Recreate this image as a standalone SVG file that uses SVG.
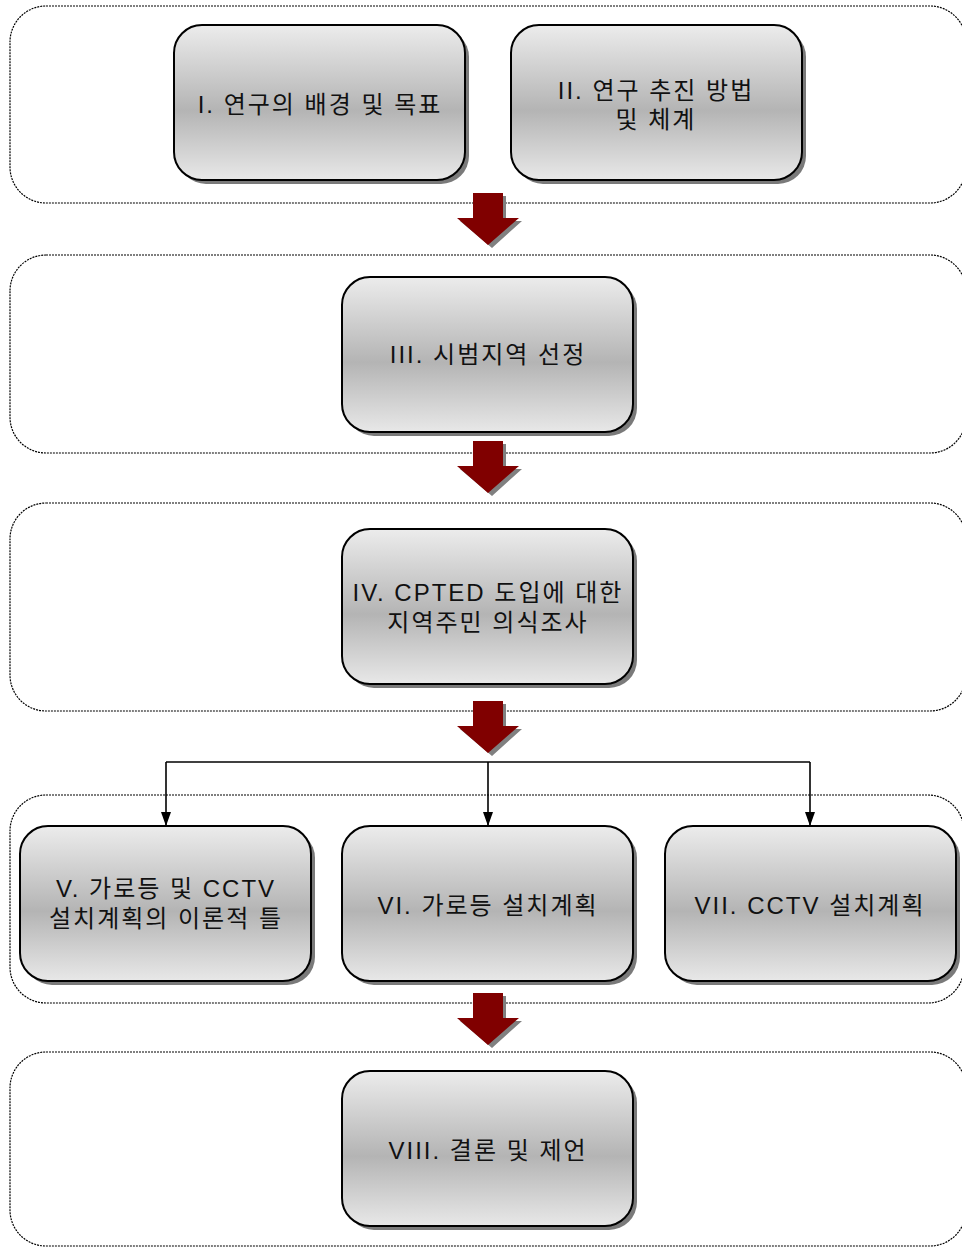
<svg xmlns="http://www.w3.org/2000/svg" width="962" height="1248" viewBox="0 0 962 1248">
  <defs>
    <linearGradient id="boxFill" x1="0" y1="0" x2="0" y2="1">
      <stop offset="0" stop-color="#ececec"/>
      <stop offset="0.55" stop-color="#b4b4b4"/>
      <stop offset="1" stop-color="#e8e8e8"/>
    </linearGradient>
    <marker id="tip" markerWidth="14" markerHeight="10" refX="14" refY="5" orient="auto" markerUnits="userSpaceOnUse" viewBox="0 0 14 10">
      <path d="M0,0 L14,5 L0,10 Z" fill="#000"/>
    </marker>
    <!-- big block arrow, origin at top-left of the shaft -->
    <g id="bigArrow">
      <path d="M19,3 L49,3 L49,28 L65,28 L35,55 L3,28 L19,28 Z" fill="#808080"/>
      <path d="M16,0 L46,0 L46,25 L62,25 L31,52 L0,25 L16,25 Z" fill="#800000"/>
    </g>
  </defs>
  <style>
    .group { fill: none; stroke: #000; stroke-width: 1.2; stroke-dasharray: 2 1; }
    .shadow { fill: #7a7a7a; }
    .box { fill: url(#boxFill); stroke: #000; stroke-width: 2; }
    .label { font-family: "Liberation Sans", "Noto Sans CJK KR", sans-serif; font-size: 24px; fill: #111; text-anchor: middle; letter-spacing: 2px; }
    .link { fill: none; stroke: #000; stroke-width: 1.6; }
  </style>

  <rect width="962" height="1248" fill="#fff"/>

  <!-- stage containers -->
  <g id="stages">
    <rect class="group" x="10" y="6" width="956" height="197" rx="36"/>
    <rect class="group" x="10" y="255" width="956" height="198" rx="36"/>
    <rect class="group" x="10" y="503" width="956" height="208" rx="36"/>
    <rect class="group" x="10" y="795" width="954" height="208" rx="36"/>
    <rect class="group" x="10" y="1052" width="956" height="194" rx="36"/>
  </g>

  <!-- flow arrows between stages -->
  <g id="flow">
    <use href="#bigArrow" x="457" y="193"/>
    <use href="#bigArrow" x="457" y="441"/>
    <use href="#bigArrow" x="457" y="701"/>
    <use href="#bigArrow" x="457" y="993"/>
  </g>

  <!-- branch connectors -->
  <g id="connectors">
    <path class="link" d="M166,762 L810,762"/>
    <path class="link" d="M166,762 L166,826" marker-end="url(#tip)"/>
    <path class="link" d="M488,762 L488,826" marker-end="url(#tip)"/>
    <path class="link" d="M810,762 L810,826" marker-end="url(#tip)"/>
  </g>

  <g id="node1">
    <rect class="shadow" x="178" y="29" width="291" height="155" rx="28"/>
    <rect class="box" x="174" y="25" width="291" height="155" rx="28"/>
    <text class="label" x="320" y="113">I. 연구의 배경 및 목표</text>
  </g>
  <g id="node2">
    <rect class="shadow" x="515" y="29" width="291" height="155" rx="28"/>
    <rect class="box" x="511" y="25" width="291" height="155" rx="28"/>
    <text class="label" x="656" y="99">II. 연구 추진 방법</text>
    <text class="label" x="656" y="128">및 체계</text>
  </g>
  <g id="node3">
    <rect class="shadow" x="346" y="281" width="291" height="155" rx="28"/>
    <rect class="box" x="342" y="277" width="291" height="155" rx="28"/>
    <text class="label" x="488" y="363">III. 시범지역 선정</text>
  </g>
  <g id="node4">
    <rect class="shadow" x="346" y="533" width="291" height="155" rx="28"/>
    <rect class="box" x="342" y="529" width="291" height="155" rx="28"/>
    <text class="label" x="488" y="601">IV. CPTED 도입에 대한</text>
    <text class="label" x="488" y="631">지역주민 의식조사</text>
  </g>
  <g id="node5">
    <rect class="shadow" x="24" y="830" width="291" height="155" rx="28"/>
    <rect class="box" x="20" y="826" width="291" height="155" rx="28"/>
    <text class="label" x="166" y="897">V. 가로등 및 CCTV</text>
    <text class="label" x="166" y="927">설치계획의 이론적 틀</text>
  </g>
  <g id="node6">
    <rect class="shadow" x="346" y="830" width="291" height="155" rx="28"/>
    <rect class="box" x="342" y="826" width="291" height="155" rx="28"/>
    <text class="label" x="488" y="914">VI. 가로등 설치계획</text>
  </g>
  <g id="node7">
    <rect class="shadow" x="669" y="830" width="291" height="155" rx="28"/>
    <rect class="box" x="665" y="826" width="291" height="155" rx="28"/>
    <text class="label" x="810" y="914">VII. CCTV 설치계획</text>
  </g>
  <g id="node8">
    <rect class="shadow" x="346" y="1075" width="291" height="155" rx="28"/>
    <rect class="box" x="342" y="1071" width="291" height="155" rx="28"/>
    <text class="label" x="488" y="1159">VIII. 결론 및 제언</text>
  </g>
</svg>
